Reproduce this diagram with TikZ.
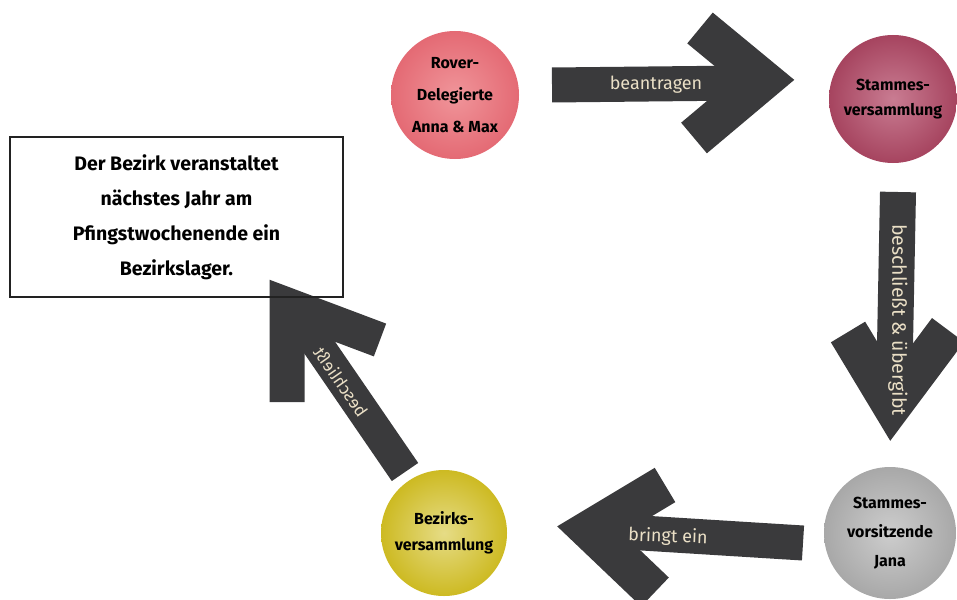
\documentclass[tikz,border=0pt]{standalone}
\usepackage{fontspec}
\setmainfont{Fira Sans}
\usepackage{graphicx}
\usetikzlibrary{calc}
\definecolor{ink}{HTML}{3A3A3C}
\definecolor{labelc}{HTML}{EADFC6}
\definecolor{roverout}{HTML}{E46A74}
\definecolor{roverin}{HTML}{F0959A}
\definecolor{stammout}{HTML}{A6445F}
\definecolor{stammin}{HTML}{C97C92}
\definecolor{janaout}{HTML}{A8A8A8}
\definecolor{janain}{HTML}{CDCDCD}
\definecolor{bezout}{HTML}{CDBA22}
\definecolor{bezin}{HTML}{E6DC86}
\definecolor{boxline}{HTML}{222222}
\begin{document}
\begin{tikzpicture}[x=1pt,y=-1pt,
  brush/.style={draw=ink, line width=#1, line cap=butt, line join=miter, miter limit=20},
  brush/.default=34pt,
  ball/.style={circle, minimum size=#1, inner sep=0pt, align=center, text=black},
  lbl/.style={text=labelc, inner sep=0pt, font=\fontsize{#1}{20}\selectfont},
  lbl/.default=18,
  ctext/.style={font=\fontsize{16}{#1}\selectfont\bfseries}
]
\useasboundingbox (0,0) rectangle (957,599);

% circles
\node[ball=128pt, ctext=32pt, inner color=roverin, outer color=roverout] (rover) at (455,95) {Rover-\\Delegierte\\Anna \& Max};
\node[ball=128pt, ctext=25pt, inner color=stammin, outer color=stammout] (stamm) at (893,99) {Stammes-\\versammlung};
\node[ball=132pt, ctext=29pt, inner color=janain, outer color=janaout] (jana) at (890,533) {Stammes-\\vorsitzende\\Jana};
\node[ball=126pt, ctext=26pt, inner color=bezin, outer color=bezout] (bez) at (444,533) {Bezirks-\\versammlung};

% arrow 1: beantragen
\coordinate (a1s) at (552,85);
\coordinate (a1e) at (745,83);
\coordinate (a1tip) at (763,80);
\draw[brush=35pt] (a1s) -- (a1e);
\draw[brush=40pt] ($(a1tip)+(-63,-52)$) -- (a1tip) -- ($(a1tip)+(-69,58)$);
\node[lbl] (l1) at (656,85) {beantragen};

% arrow 2: beschliesst & uebergibt
\coordinate (a2s) at (898,192);
\coordinate (a2e) at (894,395);
\coordinate (a2tip) at (892,405);
\draw[brush=36pt] (a2s) -- (a2e);
\draw[brush=40pt] ($(a2tip)+(-44,-73)$) -- (a2tip) -- ($(a2tip)+(56,-75)$);
\node[lbl=19.5, rotate=-90] (l2) at (898,320) {beschließt \& übergibt};

% arrow 3: bringt ein
\coordinate (a3s) at (803,543);
\coordinate (a3e) at (610,531);
\coordinate (a3tip) at (590,530);
\draw[brush=35pt] (a3s) -- (a3e);
\draw[brush=40pt] ($(a3tip)+(75,-45)$) -- (a3tip) -- ($(a3tip)+(65,62)$);
\node[lbl, rotate=-2] (l3) at (668,537) {bringt ein};

% arrow 4: beschliesst
\coordinate (a4s) at (405,472);
\coordinate (a4e) at (298,316);
\coordinate (a4tip) at (287,305);
\draw[brush=32pt] (a4s) -- (a4e);
\draw[brush=35pt] ($(a4tip)+(0,97)$) -- (a4tip) -- ($(a4tip)+(93,35)$);
\node[lbl=17, rotate=-55] (l4) at (341,382) {\reflectbox{beschließt}};

% box
\node[draw=boxline, line width=2.6pt, minimum width=333pt, minimum height=160pt, inner sep=0pt,
      align=center, font=\fontsize{19.5}{35}\selectfont\bfseries] (box) at (176.5,217)
  {Der Bezirk veranstaltet\\nächstes Jahr am\\Pfingstwochenende ein\\Bezirkslager.};
\end{tikzpicture}
\end{document}
